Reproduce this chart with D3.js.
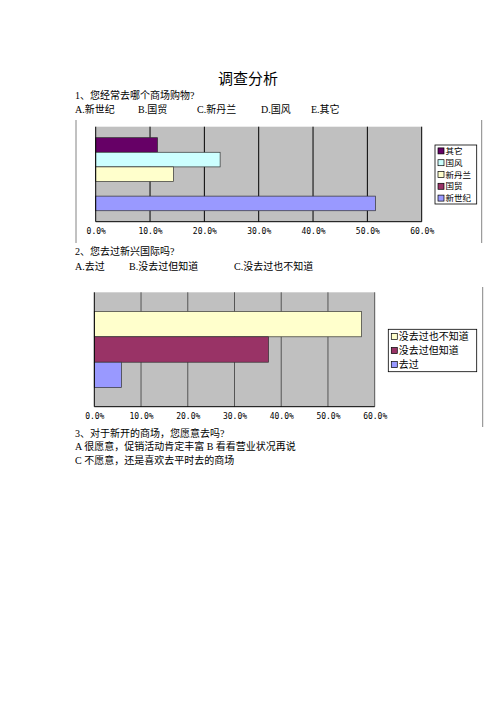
<!DOCTYPE html>
<html>
<head>
<meta charset="utf-8">
<script src="https://cdn.jsdelivr.net/npm/d3@7"></script>
<style>
  body { margin: 0; background: #fff; }
  svg text { font-family: "Liberation Serif", "Noto Sans CJK SC", serif; fill: #000; }
</style>
</head>
<body>
<div id="page"></div>
<script>
// question 1 series (top to bottom)
var q1Names = ['其它', '国风', '新丹兰', '国贸', '新世纪'];
var q1Values = [0.114, 0.229, 0.143, 0, 0.515];
var q1Colors = ['#660066', '#CCFFFF', '#FFFFCC', '#993366', '#9999FF'];

// question 2 series (top to bottom)
var q2Names = ['没去过也不知道', '没去过但知道', '去过'];
var q2Values = [0.572, 0.373, 0.058];
var q2Colors = ['#FFFFCC', '#993366', '#9999FF'];

var ticks = [0, 0.1, 0.2, 0.3, 0.4, 0.5, 0.6];

var svg = d3.select('#page').append('svg')
    .attr('width', 496)
    .attr('height', 702);

// title and question text
svg.append('text').attr('x', 248).attr('y', 84)
    .attr('text-anchor', 'middle').attr('font-size', 15).text('调查分析');

var lines = [
    {x: 75, y: 99, t: '1、您经常去哪个商场购物?'},
    {x: 75, y: 113, t: 'A.新世纪'},
    {x: 138, y: 113, t: 'B.国贸'},
    {x: 197, y: 113, t: 'C.新丹兰'},
    {x: 261, y: 113, t: 'D.国风'},
    {x: 311, y: 113, t: 'E.其它'},
    {x: 75, y: 255, t: '2、您去过新兴国际吗?'},
    {x: 75, y: 270, t: 'A.去过'},
    {x: 129, y: 270, t: 'B.没去过但知道'},
    {x: 234, y: 270, t: 'C.没去过也不知道'},
    {x: 75, y: 437, t: '3、对于新开的商场，您愿意去吗?'},
    {x: 75, y: 450, t: 'A 很愿意，促销活动肯定丰富 B 看看营业状况再说'},
    {x: 75, y: 464, t: 'C 不愿意，还是喜欢去平时去的商场'}
];
svg.selectAll('text.q').data(lines).enter().append('text')
    .attr('class', 'q')
    .attr('x', function(d) { return d.x; })
    .attr('y', function(d) { return d.y; })
    .attr('font-size', 10)
    .text(function(d) { return d.t; });

function drawChart(cfg) {
    var g = svg.append('g');
    var x = d3.scaleLinear().domain([0, 0.6]).range([cfg.x0, cfg.x1]);
    var y = d3.scaleBand().domain(cfg.names)
        .range([cfg.y0, cfg.y1]).paddingOuter(cfg.pad).paddingInner(0);

    // frame lines of the embedded object
    g.append('line').attr('x1', cfg.frameR).attr('x2', cfg.frameR)
        .attr('y1', cfg.frameTop).attr('y2', cfg.frameBot)
        .attr('stroke', '#666').attr('stroke-width', 0.8);
    if (cfg.frameL) {
        g.append('line').attr('x1', cfg.frameL).attr('x2', cfg.frameL)
            .attr('y1', cfg.frameTop).attr('y2', cfg.frameBot)
            .attr('stroke', '#666').attr('stroke-width', 0.8);
    }

    g.append('rect')
        .attr('x', cfg.x0).attr('y', cfg.y0)
        .attr('width', cfg.x1 - cfg.x0).attr('height', cfg.y1 - cfg.y0)
        .attr('fill', '#C0C0C0');

    g.selectAll('line.grid').data(ticks.slice(1)).enter().append('line')
        .attr('class', 'grid')
        .attr('x1', function(d) { return x(d); })
        .attr('x2', function(d) { return x(d); })
        .attr('y1', cfg.y0).attr('y2', cfg.y1)
        .attr('stroke', cfg.gridColor).attr('stroke-width', 1);

    g.selectAll('rect.bar').data(cfg.names).enter().append('rect')
        .attr('class', 'bar')
        .attr('x', x(0))
        .attr('y', function(d) { return y(d); })
        .attr('width', function(d, i) { return x(cfg.values[i]) - x(0); })
        .attr('height', y.bandwidth())
        .attr('fill', function(d, i) { return cfg.colors[i]; })
        .attr('stroke', function(d, i) { return cfg.values[i] > 0 ? '#333' : 'none'; })
        .attr('stroke-width', 0.7);

    // axis lines
    g.append('line').attr('x1', cfg.x0).attr('x2', cfg.x0)
        .attr('y1', cfg.y0).attr('y2', cfg.y1).attr('stroke', '#000');
    g.append('line').attr('x1', cfg.x0).attr('x2', cfg.x1)
        .attr('y1', cfg.y1).attr('y2', cfg.y1).attr('stroke', '#000');

    var axis = d3.axisBottom(x).tickValues(ticks).tickSize(0).tickPadding(7)
        .tickFormat(d3.format('.1%'));
    var ax = g.append('g').attr('transform', 'translate(0,' + cfg.y1 + ')').call(axis);
    ax.select('.domain').remove();
    ax.selectAll('text').attr('font-size', 8)
        .style('font-family', '"DejaVu Sans Mono", monospace');

    // legend
    var lg = g.append('g');
    lg.append('rect')
        .attr('x', cfg.lx).attr('y', cfg.ly)
        .attr('width', cfg.lw).attr('height', cfg.lh)
        .attr('fill', '#fff').attr('stroke', '#000').attr('stroke-width', 0.8);
    var step = cfg.lh / cfg.names.length;
    var items = lg.selectAll('g.item').data(cfg.names).enter().append('g')
        .attr('transform', function(d, i) {
            return 'translate(' + (cfg.lx + 3) + ',' + (cfg.ly + step * (i + 0.5)) + ')';
        });
    items.append('rect')
        .attr('x', 0).attr('y', -3).attr('width', 6).attr('height', 6)
        .attr('fill', function(d, i) { return cfg.colors[i]; })
        .attr('stroke', '#000').attr('stroke-width', 0.7);
    items.append('text')
        .attr('x', 7.5).attr('y', 0).attr('dy', '0.36em')
        .attr('font-size', cfg.lfont)
        .style('font-family', '"Noto Sans CJK SC", sans-serif')
        .text(function(d) { return d; });
}

drawChart({
    names: q1Names, values: q1Values, colors: q1Colors,
    x0: 95.7, x1: 421.7, y0: 126.7, y1: 221.7, pad: 0.75,
    gridColor: '#000',
    frameL: 76, frameR: 481.7, frameTop: 120, frameBot: 243,
    lx: 435, ly: 145, lw: 41.7, lh: 59, lfont: 8.5
});

drawChart({
    names: q2Names, values: q2Values, colors: q2Colors,
    x0: 94.3, x1: 374.7, y0: 292.3, y1: 406.7, pad: 0.75,
    gridColor: '#555',
    frameL: null, frameR: 482.7, frameTop: 287, frameBot: 427,
    lx: 388.3, ly: 329.3, lw: 88.4, lh: 42.4, lfont: 10
});
</script>
</body>
</html>
